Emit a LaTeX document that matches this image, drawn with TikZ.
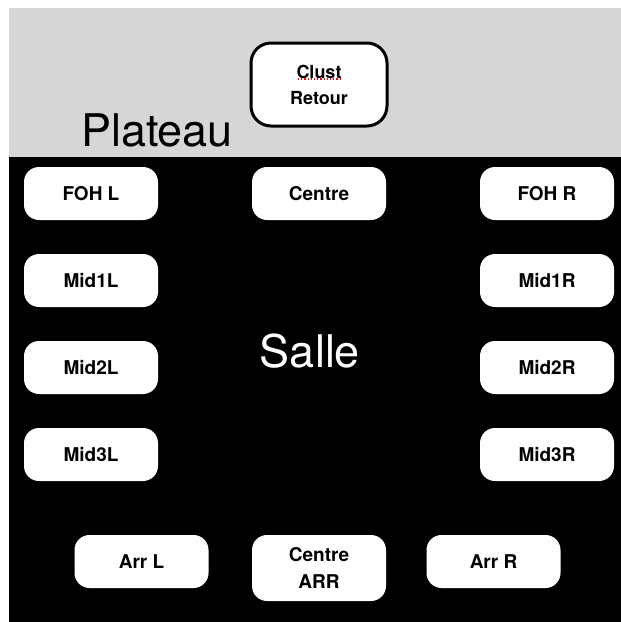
\documentclass[tikz,border=0pt]{standalone}
\usepackage{fontspec}
\setmainfont{TeX Gyre Heros}
\usetikzlibrary{positioning}
\definecolor{plateaugris}{RGB}{214,214,214}
\tikzset{
  boite/.style={fill=white, rounded corners=15pt, minimum width=134pt, minimum height=53pt,
    inner sep=0pt, align=center, font=\fontsize{19}{27}\selectfont\bfseries},
  grand/.style={font=\fontsize{45}{50}\selectfont, inner sep=0pt}
}

\begin{document}
\begin{tikzpicture}[x=1pt, y=1pt, node distance=87pt and 228pt, on grid]
\useasboundingbox (0,0) rectangle (621,-622);
\fill[plateaugris] (9,-8) rectangle (621,-157);
\fill[black] (9,-157) rectangle (621,-622);

\node[boite, draw=black, line width=3pt, rounded corners=20pt, minimum width=136pt, minimum height=83pt,
  font=\fontsize{18}{26}\selectfont\bfseries] (CR) at (319,-84.5) {Clust\\Retour};
\draw[red, dotted, line width=1.2pt] (298,-79) -- (341,-79);
\node[grand, anchor=base] (P) at (157,-146) {Plateau};
\node[grand, anchor=base, text=white] (S) at (310,-367) {Salle};

\node[boite] (FL) at (91,-193.5) {FOH L};
\node[boite, right=of FL] (C) {Centre};
\node[boite, right=of C] (FR) {FOH R};
\node[boite, below=of FL] (M1L) {Mid1L};
\node[boite, below=of M1L] (M2L) {Mid2L};
\node[boite, below=of M2L] (M3L) {Mid3L};
\node[boite, below=of FR] (M1R) {Mid1R};
\node[boite, below=of M1R] (M2R) {Mid2R};
\node[boite, below=of M2R] (M3R) {Mid3R};

\node[boite] (AL) at (141.5,-561.5) {Arr L};
\node[boite, minimum height=66pt] (CA) at (319,-568) {Centre\\ARR};
\node[boite] (AR) at (493.5,-561.5) {Arr R};
\end{tikzpicture}
\end{document}
